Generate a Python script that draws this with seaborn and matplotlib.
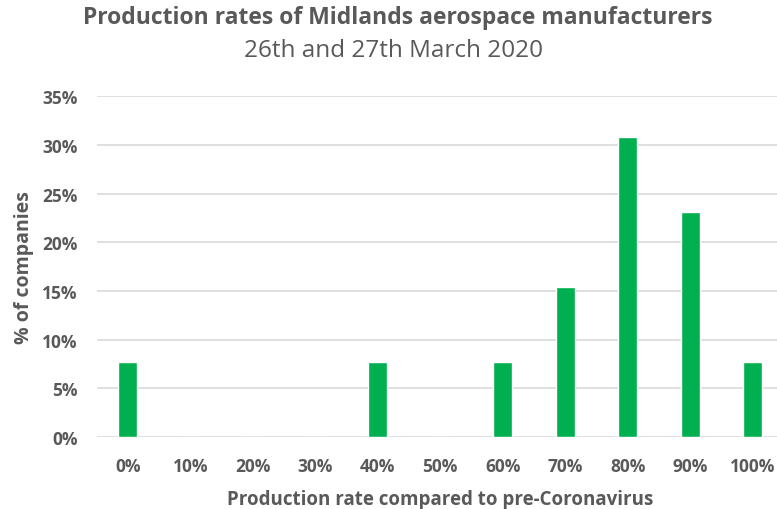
import matplotlib
matplotlib.use("Agg")
import matplotlib.pyplot as plt
import seaborn as sns
import pandas as pd

categories = ["0%", "10%", "20%", "30%", "40%", "50%", "60%", "70%", "80%", "90%", "100%"]
values = [7.7, 0, 0, 0, 7.7, 0, 7.7, 15.4, 30.8, 23.1, 7.7]
ytick_labels = ["0%", "5%", "10%", "15%", "20%", "25%", "30%", "35%"]

sns.set_theme(style="white")
plt.rcParams["font.family"] = ["Open Sans", "DejaVu Sans"]
gray = "#595959"

df = pd.DataFrame({"cat": categories, "val": values})

fig = plt.figure(figsize=(7.77, 5.10), dpi=100)
ax = fig.add_axes([96.5 / 777, 1 - 438 / 510, 687.5 / 777, (438 - 97.3) / 510])
sns.barplot(data=df, x="cat", y="val", color="#00B050", width=0.31, saturation=1, ax=ax, zorder=3)
ax.set_xlim(-0.5, 10.5)
ax.set_ylim(0, 35)
ax.set_yticks([0, 5, 10, 15, 20, 25, 30, 35])
ax.set_yticklabels(ytick_labels)
for s in ax.spines.values():
    s.set_visible(False)
ax.grid(axis="y", color="#D9D9D9", linewidth=1.2, zorder=0)
ax.tick_params(axis="both", length=0, labelsize=12.5, labelcolor=gray)
ax.tick_params(axis="x", pad=14.5)
ax.tick_params(axis="y", pad=13.5)
for lbl in ax.get_xticklabels() + ax.get_yticklabels():
    lbl.set_fontweight("bold")
ax.set_xlabel("Production rate compared to pre-Coronavirus", fontsize=13.5, fontweight="bold", color=gray, labelpad=10)
ax.set_ylabel("% of companies", fontsize=14, fontweight="bold", color=gray, labelpad=6)

fig.text(0.512, 1 - 18 / 510, "Production rates of Midlands aerospace manufacturers", ha="center", va="center",
         fontsize=16.5, fontweight="bold", color=gray)
fig.text(0.507, 1 - 51 / 510, "26th and 27th March 2020", ha="center", va="center", fontsize=17.5, color=gray)

fig.savefig("out.png", dpi=100)
